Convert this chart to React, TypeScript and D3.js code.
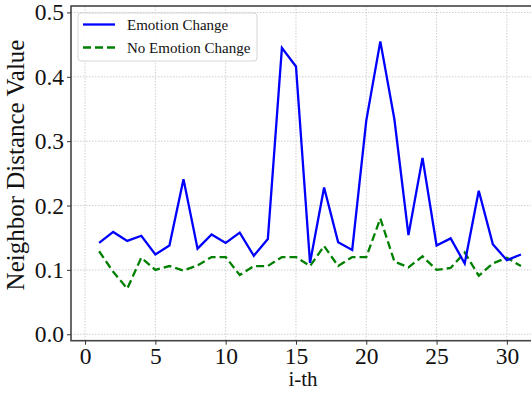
import React, { useEffect, useRef } from "react";
import * as d3 from "d3";

const steps = d3.range(1, 32);
const emotionChange = [
  0.142, 0.159, 0.145, 0.153, 0.124, 0.138, 0.241, 0.133, 0.155, 0.142,
  0.158, 0.122, 0.148, 0.445, 0.416, 0.111, 0.228, 0.143, 0.131, 0.332,
  0.455, 0.334, 0.154, 0.274, 0.138, 0.149, 0.11, 0.223, 0.14, 0.115, 0.124,
];
const noEmotionChange = [
  0.129, 0.097, 0.071, 0.119, 0.1, 0.106, 0.099, 0.107, 0.12, 0.12,
  0.092, 0.106, 0.106, 0.12, 0.12, 0.106, 0.137, 0.106, 0.12, 0.12,
  0.18, 0.113, 0.104, 0.121, 0.1, 0.103, 0.127, 0.091, 0.11, 0.119, 0.106,
];
const xTicks = [0, 5, 10, 15, 20, 25, 30];
const yTicks = [0, 0.1, 0.2, 0.3, 0.4, 0.5];
const seriesNames = ["Emotion Change", "No Emotion Change"];

const W = 531, H = 394;
const FONT = '"Liberation Serif", "DejaVu Serif", serif';

const App = () => {
  const ref = useRef(null);

  useEffect(() => {
    const svg = d3.select(ref.current);
    svg.selectAll("*").remove();

    const left = 71, right = 535, top = 6, bottom = 340.7;
    const x = d3.scaleLinear().domain([-1, 32]).range([left, right]);
    const y = d3.scaleLinear().domain([-0.01, 0.51]).range([bottom, top]);

    svg.append("rect").attr("width", W).attr("height", H).attr("fill", "white");

    // grid
    const grid = svg.append("g");
    grid.selectAll("line.gx").data(xTicks).join("line")
      .attr("x1", d => x(d)).attr("x2", d => x(d))
      .attr("y1", top).attr("y2", bottom)
      .attr("stroke", "#c8c8c8").attr("stroke-width", 0.9).attr("stroke-dasharray", "1.5,1.5");
    grid.selectAll("line.gy").data(yTicks).join("line")
      .attr("x1", left).attr("x2", right)
      .attr("y1", d => y(d)).attr("y2", d => y(d))
      .attr("stroke", "#c8c8c8").attr("stroke-width", 0.9).attr("stroke-dasharray", "1.5,1.5");

    // lines
    const line = d3.line<number>().x((_, i) => x(steps[i])).y(d => y(d));
    svg.append("path").datum(noEmotionChange).attr("d", line)
      .attr("fill", "none").attr("stroke", "#008000").attr("stroke-width", 2.3)
      .attr("stroke-dasharray", "8,4");
    svg.append("path").datum(emotionChange).attr("d", line)
      .attr("fill", "none").attr("stroke", "#0000ff").attr("stroke-width", 2.3);

    // spines
    svg.append("rect").attr("x", left).attr("y", top)
      .attr("width", right - left).attr("height", bottom - top)
      .attr("fill", "none").attr("stroke", "#444").attr("stroke-width", 1.6);

    // axes
    const xAxis = svg.append("g").attr("transform", `translate(0,${bottom})`)
      .call(d3.axisBottom(x).tickValues(xTicks).tickSize(4).tickPadding(3).tickFormat(d3.format("d")));
    const yAxis = svg.append("g").attr("transform", `translate(${left},0)`)
      .call(d3.axisLeft(y).tickValues(yTicks).tickSize(4).tickPadding(3).tickFormat(d3.format(".1f")));
    [xAxis, yAxis].forEach(a => {
      a.attr("font-family", null).attr("font-size", null);
      a.select(".domain").remove();
      a.selectAll("line").attr("stroke", "#333");
      a.selectAll("text").style("font-family", FONT).style("font-size", "23.5px").attr("fill", "#111");
    });

    // labels
    svg.append("text").attr("x", x(15.5)).attr("y", 386)
      .attr("text-anchor", "middle").style("font-family", FONT).style("font-size", "21px")
      .attr("fill", "#111").text("i-th");
    svg.append("text")
      .attr("transform", `translate(24,165) rotate(-90)`)
      .attr("text-anchor", "middle").style("font-family", FONT).style("font-size", "25px")
      .attr("fill", "#111").text("Neighbor Distance Value");

    // legend
    const lg = svg.append("g");
    lg.append("rect").attr("x", 78).attr("y", 13).attr("width", 179).attr("height", 48)
      .attr("rx", 3).attr("fill", "white").attr("fill-opacity", 0.85)
      .attr("stroke", "#d6d6d6").attr("stroke-width", 1);
    const colors = ["#0000ff", "#008000"];
    seriesNames.forEach((name, i) => {
      const ly = 24.5 + i * 23;
      lg.append("line").attr("x1", 83).attr("x2", 115).attr("y1", ly).attr("y2", ly)
        .attr("stroke", colors[i]).attr("stroke-width", 2.3)
        .attr("stroke-dasharray", i === 1 ? "8,4" : null);
      lg.append("text").attr("x", 127).attr("y", ly).attr("dy", "0.35em")
        .style("font-family", FONT).style("font-size", "15px").attr("fill", "#111").text(name);
    });
  }, []);

  return (
    <svg ref={ref} width={W} height={H}
      style={{ position: "absolute", left: 0, top: 0, display: "block", fontFamily: FONT }} />
  );
};

export default App;
